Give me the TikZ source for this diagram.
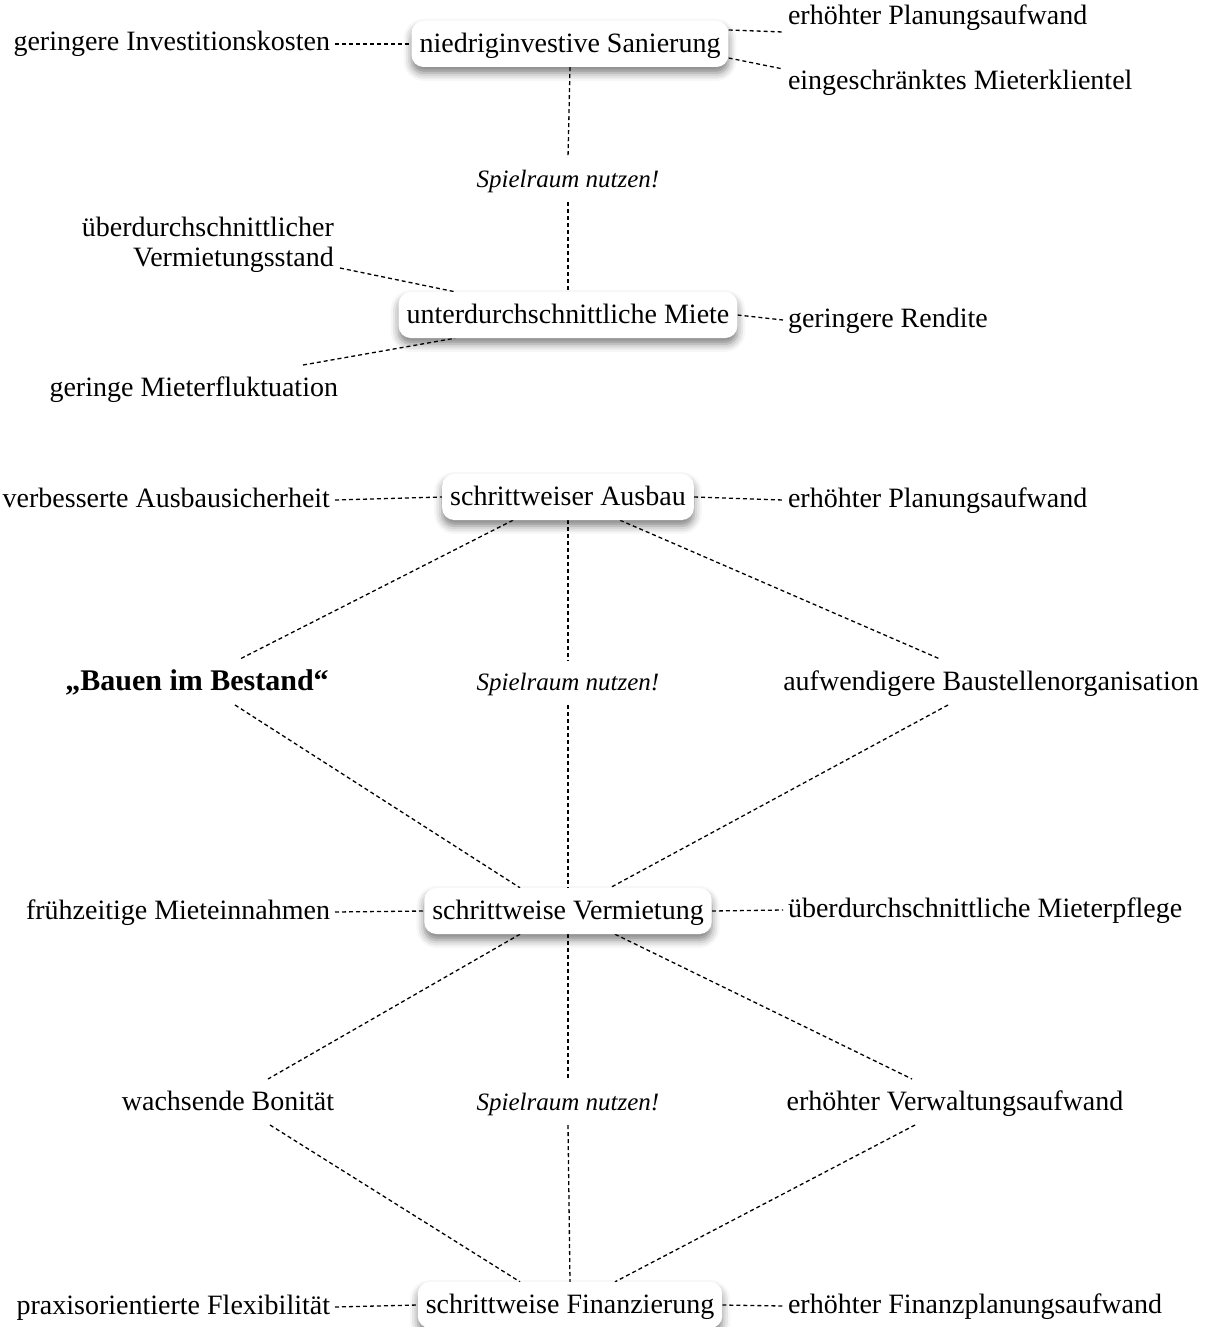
\documentclass[tikz,border=0pt]{standalone}
\usepackage{fontspec}
\setmainfont{Liberation Serif}
\usetikzlibrary{shadows.blur}
\usetikzlibrary{backgrounds}

\begin{document}
\begin{tikzpicture}[x=1pt,y=-1pt,
  box/.style={fill=white,rounded corners=12pt,minimum height=46pt,inner xsep=8pt,text height=22pt,text depth=5pt,font=\fontsize{28}{30}\selectfont,blur shadow={shadow xshift=0pt,shadow yshift=-6pt,shadow blur radius=8pt,shadow opacity=50}},
  txt/.style={inner sep=3pt,outer sep=2pt,text height=20pt,text depth=6pt,font=\fontsize{28}{30}\selectfont},
  hint/.style={txt,outer sep=6pt,font=\fontsize{25}{30}\selectfont\itshape},
  link/.style={dash pattern=on 4pt off 3pt,line width=1.3pt}]
\useasboundingbox (0,0) rectangle (1217,1327);

\node[box] (san) at (570,44) {niedriginvestive Sanierung};
\node[box] (miete) at (568,315) {unterdurchschnittliche Miete};
\node[box] (ausbau) at (568,497) {schrittweiser Ausbau};
\node[box] (verm) at (568,911) {schrittweise Vermietung};
\node[box] (fin) at (570,1305) {schrittweise Finanzierung};

\node[txt,anchor=east] (invest) at (335,44) {geringere Investitionskosten};
\node[txt,anchor=west] (plan1) at (783,18) {erhöhter Planungsaufwand};
\node[txt,anchor=west] (klientel) at (783,83) {eingeschränktes Mieterklientel};
\node[hint] (spiel1) at (568,180) {Spielraum nutzen!};
\node[inner sep=3pt,align=right,anchor=south east,font=\fontsize{28}{30}\selectfont] (vstand) at (337,276) {überdurchschnittlicher\\Vermietungsstand};
\node[txt,anchor=east] (fluk) at (343,389) {geringe Mieterfluktuation};
\node[txt,anchor=west] (rendite) at (783,320) {geringere Rendite};

\node[txt,anchor=east] (sicher) at (335,500) {verbesserte Ausbausicherheit};
\node[txt,anchor=west] (plan2) at (783,500) {erhöhter Planungsaufwand};
\node[txt,font=\fontsize{30}{30}\selectfont\bfseries] (bestand) at (197,683) {„Bauen im Bestand“};
\node[hint] (spiel2) at (568,683) {Spielraum nutzen!};
\node[txt] (baustelle) at (991,683) {aufwendigere Baustellenorganisation};

\node[txt,anchor=east] (einnahmen) at (335,912) {frühzeitige Mieteinnahmen};
\node[txt,anchor=west] (pflege) at (783,910) {überdurchschnittliche Mieterpflege};
\node[txt] (bonitaet) at (228,1103) {wachsende Bonität};
\node[hint] (spiel3) at (568,1103) {Spielraum nutzen!};
\node[txt] (verwaltung) at (955,1103) {erhöhter Verwaltungsaufwand};

\node[txt,anchor=east] (flex) at (335,1307) {praxisorientierte Flexibilität};
\node[txt,anchor=west] (finplan) at (783,1306) {erhöhter Finanzplanungsaufwand};

\begin{scope}[on background layer]
\draw[link] (invest.east) -- (san.west);
\draw[link] ([yshift=14pt]san.east) -- ([yshift=4pt]plan1.south west);
\draw[link] ([yshift=-14pt]san.east) -- ([yshift=-4pt]klientel.north west);
\draw[link] (san.south) -- (spiel1.north);
\draw[link] (spiel1.south) -- (miete.north);
\draw[link] ([xshift=3pt,yshift=8pt]vstand.south east) -- ([xshift=-113pt]miete.north);
\draw[link] ([xshift=-40pt,yshift=6pt]fluk.north east) -- ([xshift=-113pt]miete.south);
\draw[link] (miete.east) -- (rendite.west);

\draw[link] (sicher.east) -- (ausbau.west);
\draw[link] (ausbau.east) -- (plan2.west);
\draw[link] ([xshift=-55pt]ausbau.south) -- ([xshift=43pt,yshift=6pt]bestand.north);
\draw[link] (ausbau.south) -- (spiel2.north);
\draw[link] ([xshift=52pt]ausbau.south) -- ([xshift=-51pt,yshift=6pt]baustelle.north);
\draw[link] ([xshift=38pt,yshift=-4pt]bestand.south) -- ([xshift=-48pt]verm.north);
\draw[link] (spiel2.south) -- (verm.north);
\draw[link] ([xshift=-43pt,yshift=-4pt]baustelle.south) -- ([xshift=42pt]verm.north);

\draw[link] (einnahmen.east) -- (verm.west);
\draw[link] (verm.east) -- (pflege.west);
\draw[link] ([xshift=-48pt]verm.south) -- ([xshift=40pt,yshift=6pt]bonitaet.north);
\draw[link] (verm.south) -- (spiel3.north);
\draw[link] ([xshift=47pt]verm.south) -- ([xshift=-43pt,yshift=6pt]verwaltung.north);
\draw[link] ([xshift=42pt,yshift=-4pt]bonitaet.south) -- ([xshift=-50pt]fin.north);
\draw[link] (spiel3.south) -- (fin.north);
\draw[link] ([xshift=-40pt,yshift=-4pt]verwaltung.south) -- ([xshift=45pt]fin.north);

\draw[link] (flex.east) -- (fin.west);
\draw[link] (fin.east) -- (finplan.west);
\end{scope}
\end{tikzpicture}
\end{document}
